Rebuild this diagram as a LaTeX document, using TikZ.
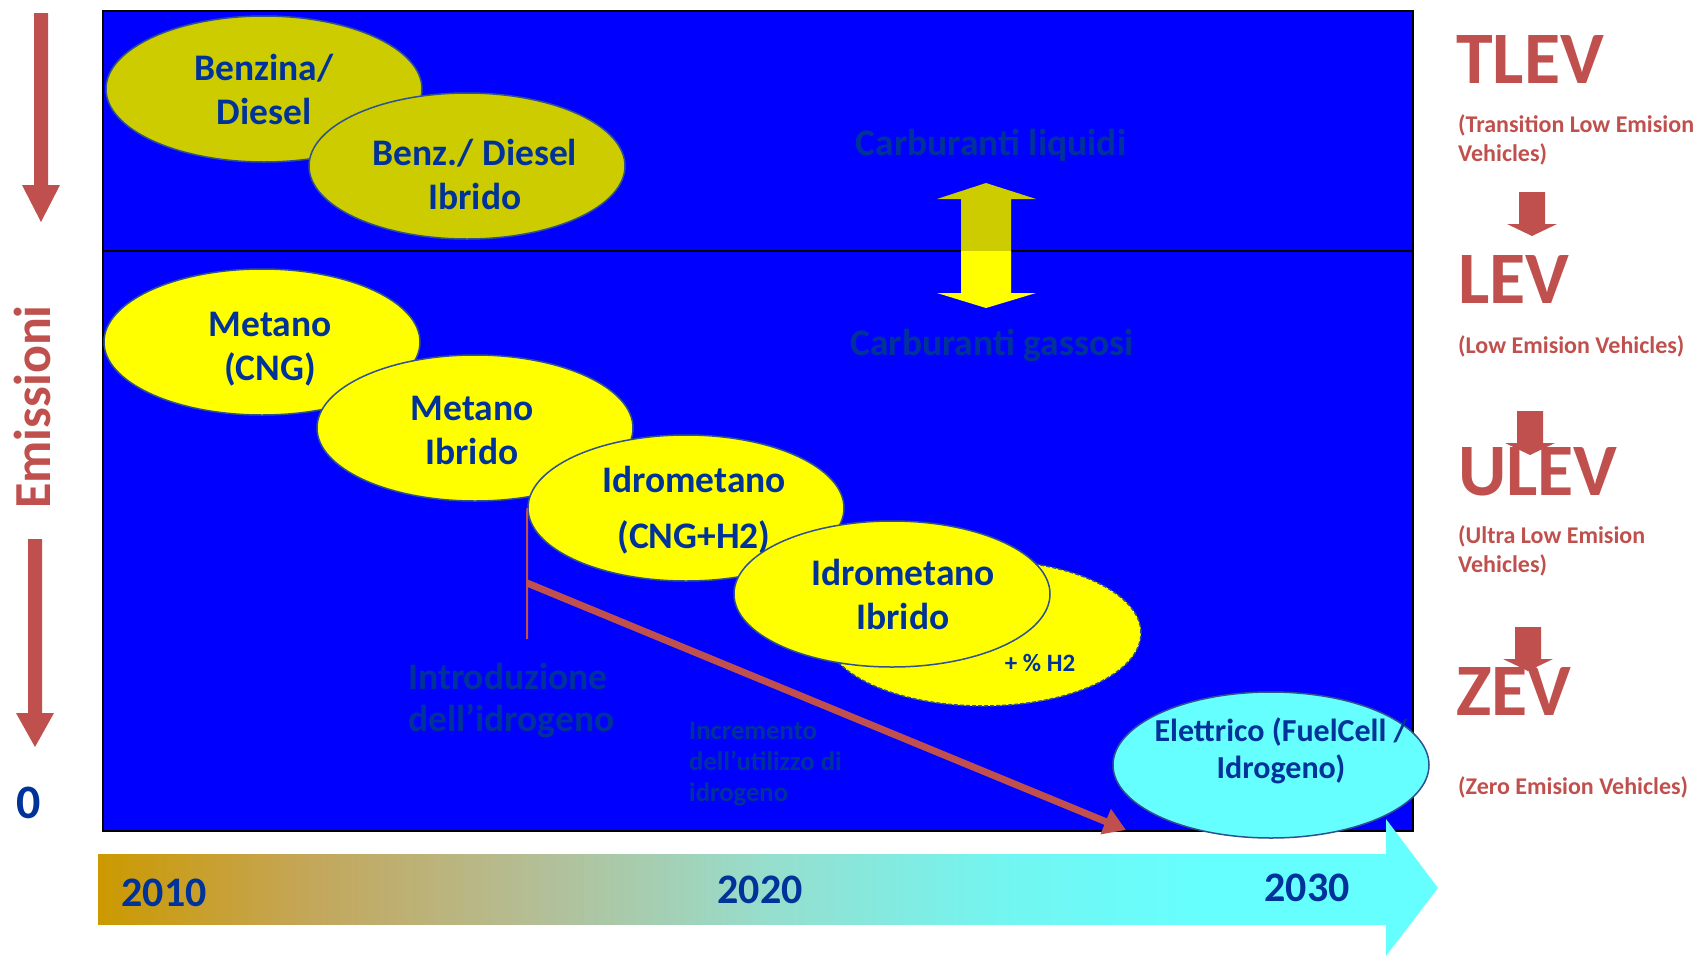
\documentclass[tikz,border=0pt]{standalone}
\usepackage{fontspec}
\setmainfont{Carlito}
\usetikzlibrary{shapes.geometric, arrows.meta}

\definecolor{panelblue}{RGB}{0,0,255}
\definecolor{txtnavy}{RGB}{0,51,153}
\definecolor{rimblue}{RGB}{47,82,143}
\definecolor{liquidfill}{RGB}{204,204,0}
\definecolor{gasfill}{RGB}{255,255,0}
\definecolor{evcyan}{RGB}{102,255,255}
\definecolor{evred}{RGB}{192,80,77}
\definecolor{barA}{RGB}{204,153,0}
\definecolor{barB}{RGB}{196,166,88}
\definecolor{barC}{RGB}{180,190,150}
\definecolor{barD}{RGB}{150,222,205}
\definecolor{barE}{RGB}{115,245,240}
\pgfdeclarehorizontalshading{yearbar}{100bp}{color(0bp)=(barA); color(25bp)=(barA); color(33bp)=(barB); color(42bp)=(barC); color(51bp)=(barD); color(60bp)=(barE); color(68bp)=(evcyan); color(100bp)=(evcyan)}

\begin{document}
\begin{tikzpicture}[
        x=1pt, y=-1pt,
        oval/.style={ellipse, draw=rimblue, line width=1.5pt, inner sep=0pt, minimum width=316pt, minimum height=146pt},
        ovaltxt/.style={align=center, text=txtnavy, font=\fontsize{37.5}{44}\selectfont\bfseries},
        fainttxt/.style={text=txtnavy, inner sep=0pt, align=left, font=\fontsize{37.5}{42}\selectfont\bfseries},
        evtag/.style={text=evred, inner sep=0pt, anchor=base west, font=\fontsize{74}{74}\selectfont\bfseries},
        evnote/.style={text=evred, inner sep=0pt, anchor=west, align=left, font=\fontsize{24}{29}\selectfont\bfseries},
        yeartxt/.style={text=txtnavy, font=\fontsize{42}{42}\selectfont\bfseries},
        h2arrow/.style={draw=evred, line width=7pt, -{Triangle[width=26pt,length=22pt]}}
    ]
    \useasboundingbox (0,0) rectangle (1698,956);
%
    % Panel
    \fill[panelblue] (103,11) rectangle (1413,831);
    \draw[line width=2.5pt] (103,11) rectangle (1413,831);
    \draw[line width=2pt] (103,251) -- (1413,251);
%
    % Time bar
    \shade[shading=yearbar] (98,854) rectangle (1387,924);
    \fill[evcyan] (1386,819) -- (1438,888) -- (1386,956) -- cycle;
    \node[yeartxt] (y2010) at (164,893) {2010};
    \node[yeartxt] (y2020) at (760,890) {2020};
    \node[yeartxt] (y2030) at (1307,888) {2030};
%
    % Liquid / gas split
    \fill[liquidfill] (986,183) -- (1036,199) -- (1011,199) -- (1011,251) -- (961,251) -- (961,199) -- (937,199) -- cycle;
    \fill[gasfill] (961,251) -- (1011,251) -- (1011,293) -- (1036,293) -- (986,308) -- (937,293) -- (961,293) -- cycle;
    \node[fainttxt] (liquidi) at (991,145) {Carburanti liquidi};
    \node[fainttxt] (gassosi) at (992,345) {Carburanti gassosi};
%
    % Fuels
    \node[oval, fill=liquidfill] (benzina) at (264,89) {};
    \node[ovaltxt] (benzinatxt) at (264,89) {Benzina/\\Diesel};
    \node[oval, fill=liquidfill] (benzibrido) at (467,166) {};
    \node[ovaltxt] (benzibridotxt) at (475,174) {Benz./ Diesel\\Ibrido};
    \node[oval, fill=gasfill] (metano) at (262,342) {};
    \node[ovaltxt] (metanotxt) at (270,349) {Metano\\(CNG)};
    \node[oval, fill=gasfill] (metibrido) at (475,428) {};
    \node[ovaltxt] (metibridotxt) at (472,430) {Metano\\Ibrido};
    \node[oval, fill=gasfill] (idrometano) at (686,508) {};
    \node[ovaltxt] (idrometanotxt) at (694,510) {Idrometano\\[12pt](CNG+H2)};
    \node[oval, fill=gasfill, dash pattern=on 4pt off 2pt] (piuh) at (983,633) {};
    \node[oval, fill=gasfill] (idroibrido) at (892,594) {};
    \node[ovaltxt] (idroibridotxt) at (903,594) {Idrometano\\Ibrido};
    \node[text=txtnavy, font=\fontsize{25}{30}\selectfont\bfseries] (piuhtxt) at (1040,663) {+ \% H2};
    \node[oval, fill=evcyan] (elettrico) at (1271,765) {};
    \node[ovaltxt, font=\fontsize{32}{37}\selectfont\bfseries] (elettricotxt) at (1281,751) {Elettrico (FuelCell /\\Idrogeno)};
%
    % Hydrogen
    \coordinate (h2base) at (527,639);
    \coordinate (h2start) at (527,583);
    \coordinate (h2end) at (1126,830);
    \draw[evred, line width=2pt] (idrometano.west) -- (h2base);
    \draw[h2arrow] (h2start) -- (h2end);
    \node[fainttxt, anchor=west] (intro) at (408,701) {Introduzione\\dell’idrogeno};
    \node[fainttxt, anchor=west, font=\fontsize{26.7}{31}\selectfont\bfseries] (incremento) at (689,764) {Incremento\\dell’utilizzo di\\idrogeno};
%
    % Emissions axis
    \fill[evred] (34,13) -- (48,13) -- (48,185) -- (60,185) -- (41,222) -- (22,185) -- (34,185) -- cycle;
    \fill[evred] (28,539) -- (42,539) -- (42,713) -- (54,713) -- (35,747) -- (16,713) -- (28,713) -- cycle;
    \node[rotate=90, text=evred, font=\fontsize{52}{52}\selectfont\bfseries] (emissioni) at (32,407) {Emissioni};
    \node[text=txtnavy, font=\fontsize{48}{48}\selectfont\bfseries] (zero) at (29,803) {0};
%
    % Vehicle classes
    \node[evtag] (tlev) at (1456,83) {TLEV};
    \node[evnote] (tlevnote) at (1458,140) {(Transition Low Emision\\Vehicles)};
    \node[evtag] (lev) at (1458,303) {LEV};
    \node[evnote] (levnote) at (1458,346) {(Low Emision Vehicles)};
    \node[evtag] (ulev) at (1458,495) {ULEV};
    \node[evnote] (ulevnote) at (1458,551) {(Ultra Low Emision\\Vehicles)};
    \node[evtag] (zev) at (1456,715) {ZEV};
    \node[evnote] (zevnote) at (1458,787) {(Zero Emision Vehicles)};
    \foreach \xc/\yt in {1532/192, 1530/411, 1528/627}
        \fill[evred] (\xc-13,\yt) -- (\xc+13,\yt) -- (\xc+13,\yt+32) -- (\xc+25,\yt+32) -- (\xc,\yt+44) -- (\xc-25,\yt+32) -- (\xc-13,\yt+32) -- cycle;
%
\end{tikzpicture}
\end{document}
